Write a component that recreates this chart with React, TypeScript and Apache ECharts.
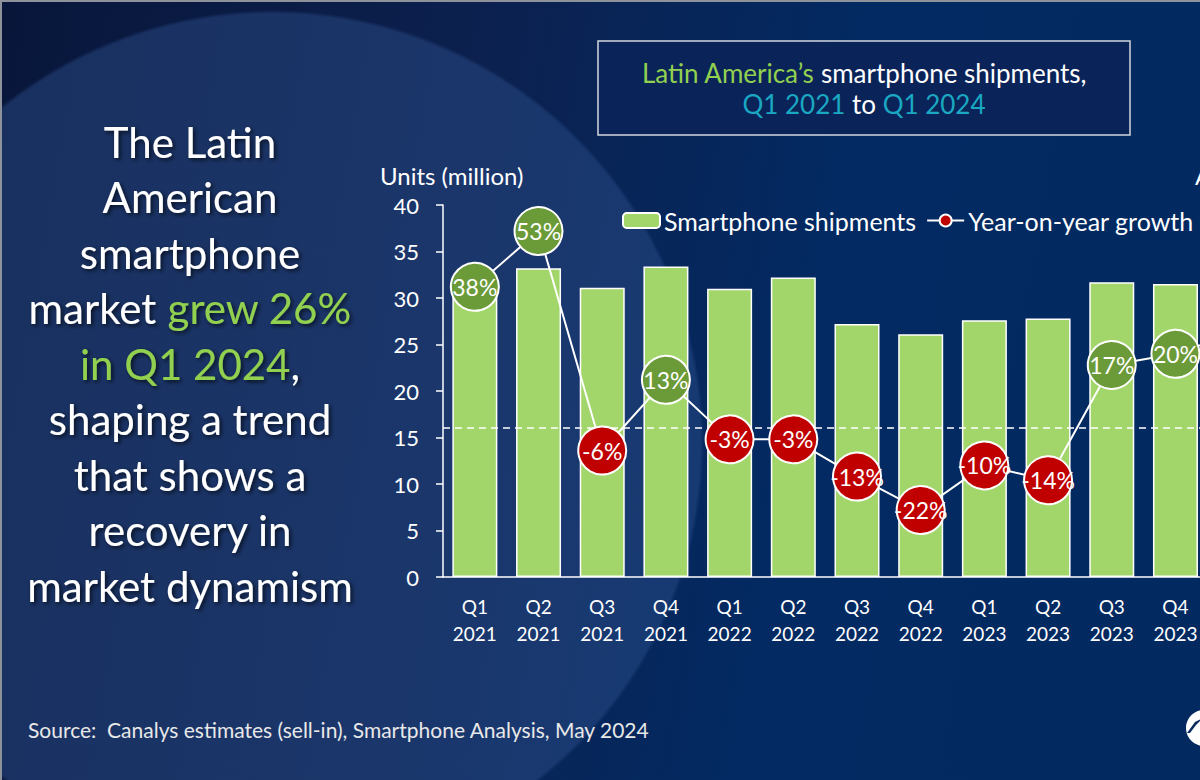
import React, { useEffect, useRef } from "react";
import * as echarts from "echarts";

const quarters = ["Q1", "Q2", "Q3", "Q4", "Q1", "Q2", "Q3", "Q4", "Q1", "Q2", "Q3", "Q4", "Q1"];
const years = ["2021", "2021", "2021", "2021", "2022", "2022", "2022", "2022", "2023", "2023", "2023", "2023", "2024"];
const shipments = [32.0, 33.2, 31.1, 33.4, 31.0, 32.2, 27.2, 26.1, 27.6, 27.8, 31.7, 31.5, 34.8];
const growth = [38, 53, -6, 13, -3, -3, -13, -22, -10, -14, 17, 20, 26];

const FONT = "Lato";
const GREEN_TXT = "#92D050";
const CYAN_TXT = "#1AA8C2";

export default function App() {
  const ref = useRef<HTMLDivElement>(null);
  useEffect(() => {
    if (!ref.current) return;
    const chart = echarts.init(ref.current, undefined, { renderer: "svg" });
    const categories = quarters.map((q, i) => `${q}\n${years[i]}`);
    chart.setOption({
      animation: false,
      backgroundColor: "transparent",
      textStyle: { fontFamily: FONT },
      grid: { left: 443, top: 205, width: 828, height: 372 },
      legend: {
        left: 622,
        top: 208,
        padding: 0,
        itemWidth: 37,
        itemHeight: 15,
        itemGap: 10,
        textStyle: { color: "#ffffff", fontSize: 25, fontFamily: FONT, padding: [0, 0, 0, -1] },
        data: ["Smartphone shipments", "Year-on-year growth"],
      },
      xAxis: {
        type: "category",
        data: categories,
        axisLine: { lineStyle: { color: "#ffffff", width: 1.5 } },
        axisTick: { show: false },
        axisLabel: { color: "#ffffff", fontSize: 19, lineHeight: 27, margin: 16, fontFamily: FONT },
      },
      yAxis: [
        {
          type: "value",
          min: 0,
          max: 40,
          interval: 5,
          splitLine: { show: false },
          axisLine: { show: true, lineStyle: { color: "#ffffff", width: 1.5 } },
          axisTick: { show: true, length: 7, lineStyle: { color: "#ffffff", width: 1.5 } },
          axisLabel: { color: "#ffffff", fontSize: 22, margin: 24, fontFamily: FONT },
        },
        {
          type: "value",
          min: -40,
          max: 60,
          interval: 20,
          show: false,
          splitLine: { show: false },
        },
      ],
      series: [
        {
          name: "Smartphone shipments",
          type: "bar",
          data: shipments,
          barWidth: 45,
          itemStyle: { color: "#A2D66A", borderColor: "#ffffff", borderWidth: 1.5 },
          z: 2,
        },
        {
          name: "Year-on-year growth",
          type: "line",
          yAxisIndex: 1,
          z: 10,
          data: growth.map((g) => ({
            value: g,
            itemStyle: { color: g >= 0 ? "#6B9A38" : "#C00000" },
          })),
          symbol: "circle",
          symbolSize: 48,
          lineStyle: { color: "#ffffff", width: 2 },
          itemStyle: { color: "#C00000", borderColor: "#ffffff", borderWidth: 2 },
          label: {
            show: true,
            position: "inside",
            color: "#ffffff",
            fontSize: 23,
            fontFamily: FONT,
            formatter: (p: any) => `${p.value}%`,
          },
          markLine: {
            z: 3,
            silent: true,
            symbol: "none",
            label: { show: false },
            lineStyle: { color: "#ffffff", type: [7, 5], width: 1.5 },
            data: [{ yAxis: 0 }],
          },
        },
      ],
      graphic: [
        {
          type: "text",
          left: 380,
          top: 163,
          style: { text: "Units (million)", fill: "#ffffff", fontSize: 24, fontFamily: FONT },
        },
        {
          type: "text",
          left: 1195,
          top: 163,
          style: { text: "Annual growth", fill: "#ffffff", fontSize: 24, fontFamily: FONT },
        },
        {
          type: "rect",
          shape: { x: 598, y: 41, width: 532, height: 94 },
          style: { fill: "#0a2459", stroke: "#d3d7de", lineWidth: 1.5 },
        },
        {
          type: "text",
          x: 864,
          y: 57,
          style: {
            text: "{g|Latin America’s }{w|smartphone shipments,}\n{c|Q1 2021 }{w|to }{c|Q1 2024}",
            align: "center",
            verticalAlign: "top",
            fontFamily: FONT,
            rich: {
              g: { fill: GREEN_TXT, fontSize: 26, lineHeight: 31, fontFamily: FONT },
              w: { fill: "#ffffff", fontSize: 26, lineHeight: 31, fontFamily: FONT },
              c: { fill: CYAN_TXT, fontSize: 26, lineHeight: 31, fontFamily: FONT },
            },
          },
        },
        {
          type: "text",
          x: 190,
          y: 114,
          style: {
            text:
              "{w|The Latin}\n{w|American}\n{w|smartphone}\n{w|market }{g|grew 26%}\n{g|in Q1 2024}{w|,}\n{w|shaping a trend}\n{w|that shows a}\n{w|recovery in}\n{w|market dynamism}",
            align: "center",
            verticalAlign: "top",
            fontFamily: FONT,
            textShadowColor: "rgba(0,0,0,0.7)",
            textShadowBlur: 4,
            textShadowOffsetX: 2,
            textShadowOffsetY: 2,
            rich: {
              w: { fill: "#ffffff", fontSize: 42, lineHeight: 55.5, fontFamily: FONT },
              g: { fill: GREEN_TXT, fontSize: 42, lineHeight: 55.5, fontFamily: FONT },
            },
          },
        },
        {
          type: "text",
          left: 28,
          top: 719,
          style: {
            text: "Source:  Canalys estimates (sell-in), Smartphone Analysis, May 2024",
            fill: "#e8e8e8",
            fontSize: 21,
            fontFamily: FONT,
          },
        },
        {
          type: "circle",
          shape: { cx: 1204, cy: 728, r: 18 },
          style: { fill: "#ffffff" },
        },
        {
          type: "polygon",
          shape: { points: [[1187, 733], [1195, 722], [1203, 718], [1196, 725], [1190, 733]] },
          style: { fill: "#0a2a5e" },
        },
      ],
    });
    return () => chart.dispose();
  }, []);

  return (
    <div
      style={{
        position: "fixed",
        left: 0,
        top: 0,
        width: 1200,
        height: 780,
        overflow: "hidden",
        boxSizing: "border-box",
        borderTop: "2px solid #8d929b",
        borderLeft: "2px solid #8d929b",
        background:
          "radial-gradient(circle 430px at 270px 440px, rgba(45,80,140,0.45) 0px, rgba(45,80,140,0.45) 428px, rgba(45,80,140,0) 432px), linear-gradient(100deg, #08163a 0%, #0c204e 35%, #032a62 65%, #022a60 100%)",
      }}
    >
      <div ref={ref} style={{ position: "absolute", left: -2, top: -2, width: 1300, height: 780 }} />
    </div>
  );
}
